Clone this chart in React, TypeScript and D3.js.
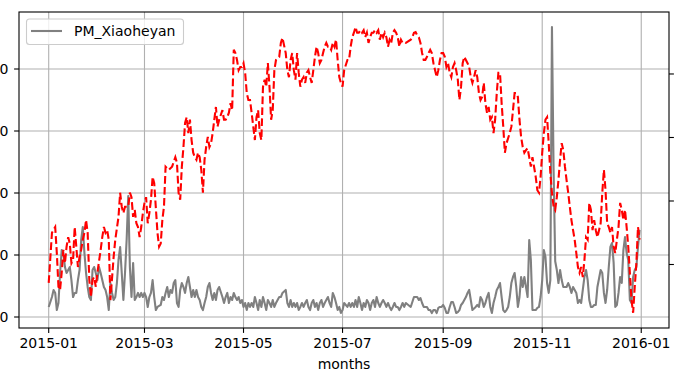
import React from 'react';
import * as d3 from 'd3';

// Day index since 2015-01-01 and values (left axis: PM, right axis: red dashed series)
const pmDays = [0,2,3,4,5,6,7,8,9,10,11,12,13,14,15,16,17,18,19,20,21,22,23,24,25,26,27,28,29,30,31,32,33,34,35,36,37,38,39,40,41,42,43,44,45,46,47,48,49,50,51,52,53,54,55,56,57,58,59,60,61,62,63,64,65,66,67,69,70,71,72,73,74,75,76,77,78,79,80,81,82,83,84,85,86,87,88,89,90,91,92,93,94,95,96,97,98,99,100,101,102,103,104,105,107,108,109,110,111,112,113,114,115,116,117,118,119,120,121,122,123,124,125,126,127,128,129,130,131,132,133,134,135,136,137,138,139,140,141,142,143,144,146,147,148,149,150,151,152,153,154,155,156,157,158,159,160,161,162,163,164,165,166,167,168,169,170,171,172,173,174,175,176,177,178,179,180,181,182,184,185,186,187,188,189,190,191,192,193,194,195,196,197,198,199,200,201,202,203,204,205,206,207,208,209,210,211,212,213,214,215,216,217,218,219,220,223,225,226,227,228,229,230,231,232,233,234,235,236,237,238,239,240,241,242,243,244,245,246,247,248,249,250,251,252,253,254,255,256,257,258,259,260,261,263,264,265,266,267,268,269,270,271,272,273,274,275,276,277,278,279,280,281,282,283,284,285,286,287,288,289,290,291,292,293,294,295,296,297,298,300,301,302,303,304,305,306,307,308,309,310,311,312,313,314,315,316,317,318,319,320,321,322,323,324,325,326,327,328,329,330,331,332,333,334,335,336,337,338,340,341,342,343,344,345,346,347,348,349,350,351,352,353,354,355,356,357,358,359,360,361,362,363,364];
const pmValues = [8.1,16.1,21.8,19.4,5.6,11.3,35.5,54.0,51.6,40.3,35.5,37.9,40.3,29.8,16.1,19.4,19.4,29.8,37.9,62.1,72.6,51.6,35.5,24.2,16.1,13.7,37.9,40.3,35.5,29.8,40.3,35.5,29.8,24.2,21.8,16.1,5.6,27.4,19.4,13.7,16.1,27.4,46.0,56.5,35.5,13.7,35.5,62.1,97.6,40.3,16.1,43.6,13.7,16.1,19.4,16.1,19.4,16.1,19.4,16.1,8.1,16.1,19.4,29.8,16.1,5.6,8.1,9.7,16.1,13.7,19.4,24.2,16.1,21.8,19.4,27.4,29.8,11.3,8.1,21.8,27.4,24.2,19.4,27.4,32.3,24.2,16.1,21.8,16.1,21.8,16.1,13.7,8.1,5.6,11.3,16.1,24.2,27.4,19.4,13.7,19.4,13.7,21.8,24.2,16.1,11.3,16.1,19.4,11.3,16.1,13.7,19.4,16.1,13.7,16.1,11.3,13.7,8.1,11.3,5.6,11.3,8.1,11.3,8.1,16.1,11.3,5.6,13.7,8.1,16.1,11.3,5.6,13.7,11.3,8.1,13.7,8.1,11.3,13.7,16.1,16.1,19.4,21.8,11.3,8.1,13.7,8.1,11.3,8.1,11.3,5.6,8.1,11.3,8.1,11.3,13.7,8.1,5.6,11.3,13.7,8.1,11.3,5.6,11.3,13.7,8.1,11.3,13.7,16.1,11.3,8.1,19.4,16.1,11.3,5.6,8.1,3.2,5.6,11.3,8.1,11.3,8.1,11.3,8.1,13.7,8.1,16.1,11.3,5.6,11.3,8.1,13.7,11.3,5.6,11.3,13.7,8.1,16.1,11.3,8.1,11.3,13.7,11.3,8.1,11.3,8.1,5.6,8.1,11.3,8.1,8.1,5.6,8.1,11.3,8.1,11.3,8.1,16.1,16.1,16.1,13.7,15.3,11.3,8.1,8.1,8.1,5.6,5.6,3.2,5.6,5.6,3.2,7.3,8.1,8.1,9.7,7.3,3.2,3.2,8.1,12.1,12.1,8.1,3.2,4.0,5.6,9.7,11.3,13.7,16.1,19.4,21.8,13.7,5.6,8.1,9.7,8.1,16.1,13.7,8.1,11.3,16.1,19.4,8.1,3.2,11.3,16.1,21.8,24.2,27.4,16.1,5.6,4.0,5.6,8.1,16.1,27.4,32.3,35.5,24.2,8.1,16.1,32.3,24.2,32.3,24.2,16.1,62.1,46.0,5.6,5.6,7.3,8.1,16.1,29.8,54.0,48.4,27.4,19.4,29.8,233.8,120.0,45.0,37.9,27.4,37.9,29.8,24.2,24.2,24.2,27.4,24.2,19.4,24.2,21.8,19.4,11.3,13.7,11.3,21.8,32.3,37.9,29.8,13.7,8.1,8.1,9.7,9.7,24.2,37.9,35.5,19.4,11.3,21.8,40.3,56.5,59.7,43.6,8.1,9.7,19.4,32.3,27.4,54.0,64.5,51.6,46.0,13.7,11.3,32.3,37.9,40.3,56.5,70.2];

const tempDays = [0,2,4,5,6,7,8,9,10,11,12,13,14,15,16,17,18,19,20,21,22,23,24,25,26,27,28,29,30,32,33,34,35,36,37,38,40,41,43,44,45,46,47,49,50,51,52,53,54,55,56,57,58,59,60,61,62,63,64,65,67,68,69,70,71,72,74,76,78,79,80,81,82,83,84,85,86,87,88,89,90,91,92,93,94,95,96,97,98,99,100,101,102,103,104,105,107,108,109,110,111,112,113,114,115,116,117,118,119,120,121,122,123,124,125,126,127,128,129,130,131,132,133,134,135,136,137,138,139,140,141,142,143,144,146,147,148,149,150,151,152,153,154,155,156,157,158,159,160,161,162,163,164,165,166,167,168,169,170,171,172,173,174,175,176,177,178,179,180,181,182,184,185,186,187,188,189,190,191,192,193,194,195,196,197,198,199,200,201,202,203,204,205,206,207,208,209,210,211,212,213,214,215,216,217,218,219,220,223,224,225,226,227,228,229,230,231,232,233,234,235,236,237,238,239,240,241,242,243,244,245,246,247,248,249,250,251,252,253,254,255,256,257,258,259,260,261,262,263,264,265,266,267,268,269,270,271,272,273,274,275,276,277,278,279,280,281,282,284,285,286,287,288,289,290,291,292,293,294,295,296,297,298,300,301,302,303,304,305,306,307,308,309,310,311,312,313,314,315,316,317,318,319,320,321,322,323,324,325,326,327,328,329,330,331,332,333,334,335,336,337,338,340,341,342,343,344,345,346,347,348,349,350,351,352,353,354,355,356,357,358,359,360,361,362,363,364];
const tempValues = [-12.9,-5.0,-4.1,-8.2,-13.5,-14.0,-11.3,-7.7,-9.8,-7.2,-5.7,-6.7,-9.8,-9.3,-4.1,-7.2,-10.4,-8.8,-7.7,-6.1,-5.0,-3.0,-5.0,-12.4,-15.1,-12.4,-12.0,-13.5,-11.3,-7.7,-5.7,-4.1,-5.0,-4.6,-6.1,-15.6,-8.8,-6.1,-2.5,1.3,-0.9,-1.9,-0.9,-0.9,1.3,0.6,-2.5,-1.4,-3.5,-4.1,-5.7,-4.1,-1.9,-0.3,0.6,-3.5,-1.9,0.2,3.8,2.8,-5.0,-7.2,-6.7,-3.0,-0.9,5.4,4.9,5.4,6.9,6.0,1.3,0.2,5.4,8.5,12.3,13.2,10.7,12.8,9.6,7.6,6.9,6.5,7.6,6.9,4.9,1.3,6.5,8.5,10.1,8.5,9.1,10.7,12.8,14.8,11.7,12.8,14.3,12.8,12.8,13.2,13.9,15.4,14.3,23.8,23.3,22.2,20.6,21.1,21.1,21.7,20.2,17.0,15.9,15.9,13.9,11.7,9.6,13.2,14.3,10.7,9.6,18.0,19.1,18.0,21.7,18.0,12.8,14.3,20.6,22.2,22.5,22.7,24.9,25.7,23.3,20.6,19.5,22.2,23.3,20.6,19.1,23.3,20.2,18.0,19.1,19.5,18.6,20.2,20.6,19.5,18.6,20.6,22.7,24.3,23.3,21.7,22.2,23.3,24.3,24.9,24.3,24.3,23.8,24.9,24.3,25.4,22.2,19.5,18.6,18.0,20.6,22.2,22.2,24.3,25.8,26.5,27.4,26.5,26.5,26.9,26.5,26.9,25.8,26.5,24.9,25.8,26.5,26.5,26.9,26.5,26.9,25.4,26.5,25.8,26.5,25.8,24.3,25.4,24.9,26.5,26.9,26.5,25.8,24.3,25.4,24.9,25.0,24.9,25.4,25.8,26.5,26.6,26.1,25.8,24.9,23.3,22.2,22.2,22.7,23.3,23.8,23.3,21.7,20.6,19.5,20.6,22.2,23.3,23.3,22.7,21.1,21.7,20.2,19.5,21.1,21.7,20.6,19.1,15.9,18.0,21.7,22.7,22.2,21.7,21.1,19.5,18.6,19.5,20.6,19.5,17.0,15.9,16.4,18.6,15.4,13.9,14.8,12.8,13.2,10.7,12.8,17.0,20.2,20.2,15.4,11.7,7.6,9.1,10.7,11.7,14.3,17.0,17.0,16.4,12.8,10.1,8.5,7.6,8.0,8.3,6.9,5.4,6.9,3.8,1.7,1.3,3.8,7.6,10.7,12.8,13.2,9.1,4.4,1.3,-0.9,-1.4,0.6,3.3,6.5,9.1,8.0,5.4,3.3,1.3,-0.9,-3.0,-4.6,-6.1,-8.2,-10.4,-11.3,-10.4,-12.0,-9.3,-5.7,-6.1,-0.3,-1.4,-4.6,-3.0,-4.6,-5.7,-3.5,1.3,4.9,1.7,-3.5,-4.1,-5.0,-4.1,-7.2,-8.2,-6.1,-4.1,-0.3,-1.4,-3.0,-1.4,-4.1,-7.2,-11.3,-15.6,-17.6,-13.5,-9.8,-4.1,-6.1];

const leftTicks = [0, 50, 100, 150, 200];
const rightTicks = [-10, 0, 10, 20];
const legendLabel = 'PM_Xiaoheyan';
const xLabel = 'months';

const START = Date.UTC(2015, 0, 1);
const DAY = 86400000;
const toDate = (d: number) => new Date(START + d * DAY);

const W = 678, H = 381;
const L = 19, R = 669, T = 12, B = 328;
const FONT = 'DejaVu Sans, sans-serif';

export default function App() {
  const x = d3.scaleUtc().domain([toDate(-18.3), toDate(382.1)]).range([L, R]);
  const yL = d3.scaleLinear().domain([-8.87, 245.97]).range([B, T]);
  const yR = d3.scaleLinear().domain([-20.0, 29.76]).range([B, T]);
  const xTicks = x.ticks(d3.utcMonth.every(2) as any);
  const fmt = d3.utcFormat('%Y-%m');

  const pmLine = d3.line<number>()
    .x((_, i) => x(toDate(pmDays[i])))
    .y((v) => yL(v));
  const tLine = d3.line<number>()
    .x((_, i) => x(toDate(tempDays[i])))
    .y((v) => yR(v));

  return (
    <svg width={W} height={H} style={{ position: 'absolute', left: 0, top: 0, background: '#fff' }} fontFamily={FONT}>
      <rect x={0} y={0} width={W} height={H} fill="#fff" />
      {/* grid */}
      {xTicks.map((t, i) => (
        <line key={'gx' + i} x1={x(t)} x2={x(t)} y1={T} y2={B} stroke="#b0b0b0" strokeWidth={1.1} />
      ))}
      {leftTicks.map((v, i) => (
        <line key={'gy' + i} x1={L} x2={R} y1={yL(v)} y2={yL(v)} stroke="#b0b0b0" strokeWidth={1.1} />
      ))}
      <defs>
        <clipPath id="plot"><rect x={L} y={T} width={R - L} height={B - T} /></clipPath>
      </defs>
      <g clipPath="url(#plot)">
        <path d={pmLine(pmValues) || ''} fill="none" stroke="#808080" strokeWidth={2.1} strokeLinejoin="round" />
        <path d={tLine(tempValues) || ''} fill="none" stroke="#ff0000" strokeWidth={2.1} strokeDasharray="7.7,3.3" />
      </g>
      {/* spines */}
      <rect x={L} y={T} width={R - L} height={B - T} fill="none" stroke="#000" strokeWidth={1.1} />
      {/* x ticks */}
      {xTicks.map((t, i) => (
        <g key={'xt' + i}>
          <line x1={x(t)} x2={x(t)} y1={B} y2={B + 4.9} stroke="#000" strokeWidth={1.1} />
          <text x={x(t)} y={348} textAnchor="middle" fontSize={14} fill="#000">{fmt(t)}</text>
        </g>
      ))}
      {/* left ticks */}
      {leftTicks.map((v, i) => (
        <g key={'yl' + i}>
          <line x1={L - 4.9} x2={L} y1={yL(v)} y2={yL(v)} stroke="#000" strokeWidth={1.1} />
          <text x={8.5} y={yL(v) + 5} textAnchor="end" fontSize={14} fill="#000">{v}</text>
        </g>
      ))}
      {/* right ticks */}
      {rightTicks.map((v, i) => (
        <line key={'yr' + i} x1={R} x2={R + 4.9} y1={yR(v)} y2={yR(v)} stroke="#000" strokeWidth={1.1} />
      ))}
      <text x={(L + R) / 2} y={369} textAnchor="middle" fontSize={14} fill="#000">{xLabel}</text>
      {/* legend */}
      <rect x={26.5} y={19} width={157} height={25.5} rx={3} fill="#fff" fillOpacity={0.8} stroke="#cccccc" strokeWidth={1.1} />
      <line x1={31} x2={62} y1={31} y2={31} stroke="#808080" strokeWidth={2.1} />
      <text x={74} y={36} fontSize={14} fill="#000">{legendLabel}</text>
    </svg>
  );
}
